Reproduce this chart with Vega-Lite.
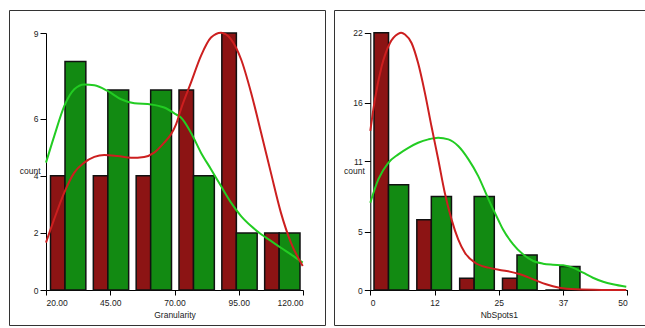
{
  "$schema": "https://vega.github.io/schema/vega-lite/v6.json",
  "padding": {"left": 8, "top": 9, "right": 0, "bottom": 0},
  "spacing": 7,
  "background": "white",
  "config": {
    "view": {"stroke": "#333333", "strokeWidth": 1},
    "axis": {
      "grid": false,
      "domainColor": "#000000",
      "tickColor": "#000000",
      "labelColor": "#222222",
      "titleColor": "#222222",
      "labelFont": "Liberation Sans",
      "titleFont": "Liberation Sans",
      "labelFontSize": 8.5,
      "titleFontSize": 8.5,
      "titleFontWeight": "normal"
    }
  },
  "datasets": {
    "gran_bars": [
      {"lo": 20, "hi": 36.667, "count": 4, "group": "A"},
      {"lo": 36.667, "hi": 53.333, "count": 4, "group": "A"},
      {"lo": 53.333, "hi": 70, "count": 4, "group": "A"},
      {"lo": 70, "hi": 86.667, "count": 7, "group": "A"},
      {"lo": 86.667, "hi": 103.333, "count": 9, "group": "A"},
      {"lo": 103.333, "hi": 120, "count": 2, "group": "A"},
      {"lo": 20, "hi": 36.667, "count": 8, "group": "B"},
      {"lo": 36.667, "hi": 53.333, "count": 7, "group": "B"},
      {"lo": 53.333, "hi": 70, "count": 7, "group": "B"},
      {"lo": 70, "hi": 86.667, "count": 4, "group": "B"},
      {"lo": 86.667, "hi": 103.333, "count": 2, "group": "B"},
      {"lo": 103.333, "hi": 120, "count": 2, "group": "B"}
    ],
    "gran_kde_a": [
      {"x": 20, "y": 1.66}, {"x": 23.2, "y": 2.48}, {"x": 27.1, "y": 3.41}, {"x": 31.0, "y": 4.11},
      {"x": 34.9, "y": 4.46}, {"x": 38.8, "y": 4.66}, {"x": 42.7, "y": 4.73}, {"x": 47.9, "y": 4.69},
      {"x": 53.1, "y": 4.63}, {"x": 58.2, "y": 4.66}, {"x": 62.1, "y": 4.81}, {"x": 66.0, "y": 5.16},
      {"x": 68.6, "y": 5.45}, {"x": 70.6, "y": 5.8}, {"x": 72.5, "y": 6.33}, {"x": 76.4, "y": 7.26},
      {"x": 80.3, "y": 8.2}, {"x": 84.2, "y": 8.84}, {"x": 88.1, "y": 9.01}, {"x": 92.0, "y": 8.78},
      {"x": 95.9, "y": 8.08}, {"x": 99.8, "y": 6.91}, {"x": 103.7, "y": 5.51}, {"x": 107.5, "y": 4.11},
      {"x": 111.4, "y": 2.71}, {"x": 115.3, "y": 1.66}, {"x": 119.9, "y": 0.84}
    ],
    "gran_kde_b": [
      {"x": 20, "y": 4.46}, {"x": 23.2, "y": 5.39}, {"x": 27.1, "y": 6.44}, {"x": 31.0, "y": 7.03},
      {"x": 34.9, "y": 7.2}, {"x": 38.8, "y": 7.17}, {"x": 44.0, "y": 6.97}, {"x": 49.2, "y": 6.68},
      {"x": 54.4, "y": 6.54}, {"x": 60.9, "y": 6.5}, {"x": 66.0, "y": 6.39}, {"x": 70.6, "y": 6.15},
      {"x": 72.5, "y": 6.04}, {"x": 76.4, "y": 5.51}, {"x": 80.3, "y": 4.81}, {"x": 84.2, "y": 4.23},
      {"x": 88.1, "y": 3.64}, {"x": 92.0, "y": 3.06}, {"x": 95.9, "y": 2.59}, {"x": 99.8, "y": 2.24},
      {"x": 103.7, "y": 1.95}, {"x": 107.5, "y": 1.72}, {"x": 111.4, "y": 1.48}, {"x": 115.3, "y": 1.25},
      {"x": 119.9, "y": 0.96}
    ],
    "spots_bars": [
      {"lo": 0, "hi": 8.333, "count": 22, "group": "A"},
      {"lo": 8.333, "hi": 16.667, "count": 6, "group": "A"},
      {"lo": 16.667, "hi": 25, "count": 1, "group": "A"},
      {"lo": 25, "hi": 33.333, "count": 1, "group": "A"},
      {"lo": 33.333, "hi": 41.667, "count": 0, "group": "A"},
      {"lo": 0, "hi": 8.333, "count": 9, "group": "B"},
      {"lo": 8.333, "hi": 16.667, "count": 8, "group": "B"},
      {"lo": 16.667, "hi": 25, "count": 8, "group": "B"},
      {"lo": 25, "hi": 33.333, "count": 3, "group": "B"},
      {"lo": 33.333, "hi": 41.667, "count": 2, "group": "B"}
    ],
    "spots_kde_a": [
      {"x": 0, "y": 13.6}, {"x": 0.9, "y": 16.3}, {"x": 2.2, "y": 19.1}, {"x": 3.8, "y": 21.1},
      {"x": 5.4, "y": 21.9}, {"x": 6.0, "y": 22.0}, {"x": 6.75, "y": 21.85}, {"x": 8.05, "y": 21.1}, {"x": 9.3, "y": 19.4},
      {"x": 10.6, "y": 16.9}, {"x": 11.9, "y": 14.0}, {"x": 13.2, "y": 11.2}, {"x": 14.5, "y": 8.3},
      {"x": 15.8, "y": 6.04}, {"x": 17.1, "y": 4.33}, {"x": 18.4, "y": 3.19}, {"x": 20.4, "y": 2.33},
      {"x": 23.0, "y": 1.91}, {"x": 25.2, "y": 1.71}, {"x": 26.5, "y": 1.62}, {"x": 29.1, "y": 1.34},
      {"x": 31.7, "y": 0.91}, {"x": 34.2, "y": 0.49}, {"x": 36.8, "y": 0.2}, {"x": 40.1, "y": 0.06},
      {"x": 45.0, "y": 0.01}, {"x": 49.8, "y": 0.0}
    ],
    "spots_kde_b": [
      {"x": 0, "y": 7.46}, {"x": 1.56, "y": 9.46}, {"x": 3.5, "y": 10.88}, {"x": 5.45, "y": 11.6},
      {"x": 7.4, "y": 12.16}, {"x": 9.3, "y": 12.59}, {"x": 11.3, "y": 12.88}, {"x": 13.2, "y": 13.02},
      {"x": 15.2, "y": 12.88}, {"x": 17.1, "y": 12.31}, {"x": 19.1, "y": 11.17}, {"x": 21.0, "y": 9.74},
      {"x": 23.0, "y": 7.75}, {"x": 25.0, "y": 5.9}, {"x": 25.8, "y": 5.19}, {"x": 27.8, "y": 3.91},
      {"x": 29.7, "y": 3.05}, {"x": 31.7, "y": 2.48}, {"x": 33.6, "y": 2.25}, {"x": 35.5, "y": 2.16},
      {"x": 37.5, "y": 2.11}, {"x": 39.4, "y": 1.91}, {"x": 41.4, "y": 1.48}, {"x": 43.3, "y": 1.05},
      {"x": 45.3, "y": 0.71}, {"x": 47.2, "y": 0.49}, {"x": 49.8, "y": 0.28}
    ]
  },
  "hconcat": [
    {
      "width": 316,
      "height": 315,
      "layer": [
        {
          "data": {"name": "gran_bars"},
          "transform": [{"filter": "datum.group == 'A'"}],
          "mark": {"type": "bar", "xOffset": 4.5, "x2Offset": -23.8, "fill": "#8c1414", "stroke": "#111111", "strokeWidth": 1.5},
          "encoding": {
            "x": {"field": "lo", "type": "quantitative",
              "scale": {"domain": [20, 120], "range": [37, 294]},
              "axis": {"values": [20, 45, 70, 95, 120], "format": ".2f", "title": "Granularity", "offset": -35, "tickSize": 5, "labelPadding": 3, "titlePadding": 4}},
            "x2": {"field": "hi"},
            "y": {"field": "count", "type": "quantitative",
              "scale": {"domain": [0, 9], "range": [280, 23]},
              "axis": {"values": [0, 2, 4, 6, 9], "title": "count", "titleAngle": 0, "titleAlign": "right", "titleBaseline": "middle", "titleX": -6, "titleY": 160, "offset": -37, "tickSize": 6, "labelPadding": 2}},
            "y2": {"datum": 0}
          }
        },
        {
          "data": {"name": "gran_bars"},
          "transform": [{"filter": "datum.group == 'B'"}],
          "mark": {"type": "bar", "xOffset": 19, "x2Offset": -3, "fill": "#128a12", "stroke": "#111111", "strokeWidth": 1.5},
          "encoding": {
            "x": {"field": "lo", "type": "quantitative"},
            "x2": {"field": "hi"},
            "y": {"field": "count", "type": "quantitative"},
            "y2": {"datum": 0}
          }
        },
        {
          "data": {"name": "gran_kde_b"},
          "mark": {"type": "line", "color": "#22cc22", "strokeWidth": 2, "interpolate": "monotone"},
          "encoding": {
            "x": {"field": "x", "type": "quantitative"},
            "y": {"field": "y", "type": "quantitative"}
          }
        },
        {
          "data": {"name": "gran_kde_a"},
          "mark": {"type": "line", "color": "#cc1f1f", "strokeWidth": 2, "interpolate": "monotone"},
          "encoding": {
            "x": {"field": "x", "type": "quantitative"},
            "y": {"field": "y", "type": "quantitative"}
          }
        }
      ]
    },
    {
      "width": 316,
      "height": 315,
      "layer": [
        {
          "data": {"name": "spots_bars"},
          "transform": [{"filter": "datum.group == 'A'"}],
          "mark": {"type": "bar", "xOffset": 3.7, "x2Offset": -24.6, "fill": "#8c1414", "stroke": "#111111", "strokeWidth": 1.5},
          "encoding": {
            "x": {"field": "lo", "type": "quantitative",
              "scale": {"domain": [0, 50], "range": [36.3, 293.3]},
              "axis": {"values": [0, 12.5, 25, 37.5, 50], "labelExpr": "floor(datum.value)", "title": "NbSpots1", "offset": -35, "tickSize": 5, "labelPadding": 3, "titlePadding": 4}},
            "x2": {"field": "hi"},
            "y": {"field": "count", "type": "quantitative",
              "scale": {"domain": [0, 22], "range": [280, 22.7]},
              "axis": {"values": [0, 5, 11, 16, 22], "title": "count", "titleAngle": 0, "titleAlign": "right", "titleBaseline": "middle", "titleX": -6, "titleY": 160, "offset": -36.3, "tickSize": 6, "labelPadding": 2}},
            "y2": {"datum": 0}
          }
        },
        {
          "data": {"name": "spots_bars"},
          "transform": [{"filter": "datum.group == 'B'"}],
          "mark": {"type": "bar", "xOffset": 18.2, "x2Offset": -4.5, "fill": "#128a12", "stroke": "#111111", "strokeWidth": 1.5},
          "encoding": {
            "x": {"field": "lo", "type": "quantitative"},
            "x2": {"field": "hi"},
            "y": {"field": "count", "type": "quantitative"},
            "y2": {"datum": 0}
          }
        },
        {
          "data": {"name": "spots_kde_b"},
          "mark": {"type": "line", "color": "#22cc22", "strokeWidth": 2, "interpolate": "monotone"},
          "encoding": {
            "x": {"field": "x", "type": "quantitative"},
            "y": {"field": "y", "type": "quantitative"}
          }
        },
        {
          "data": {"name": "spots_kde_a"},
          "mark": {"type": "line", "color": "#cc1f1f", "strokeWidth": 2, "interpolate": "monotone"},
          "encoding": {
            "x": {"field": "x", "type": "quantitative"},
            "y": {"field": "y", "type": "quantitative"}
          }
        }
      ]
    }
  ]
}
